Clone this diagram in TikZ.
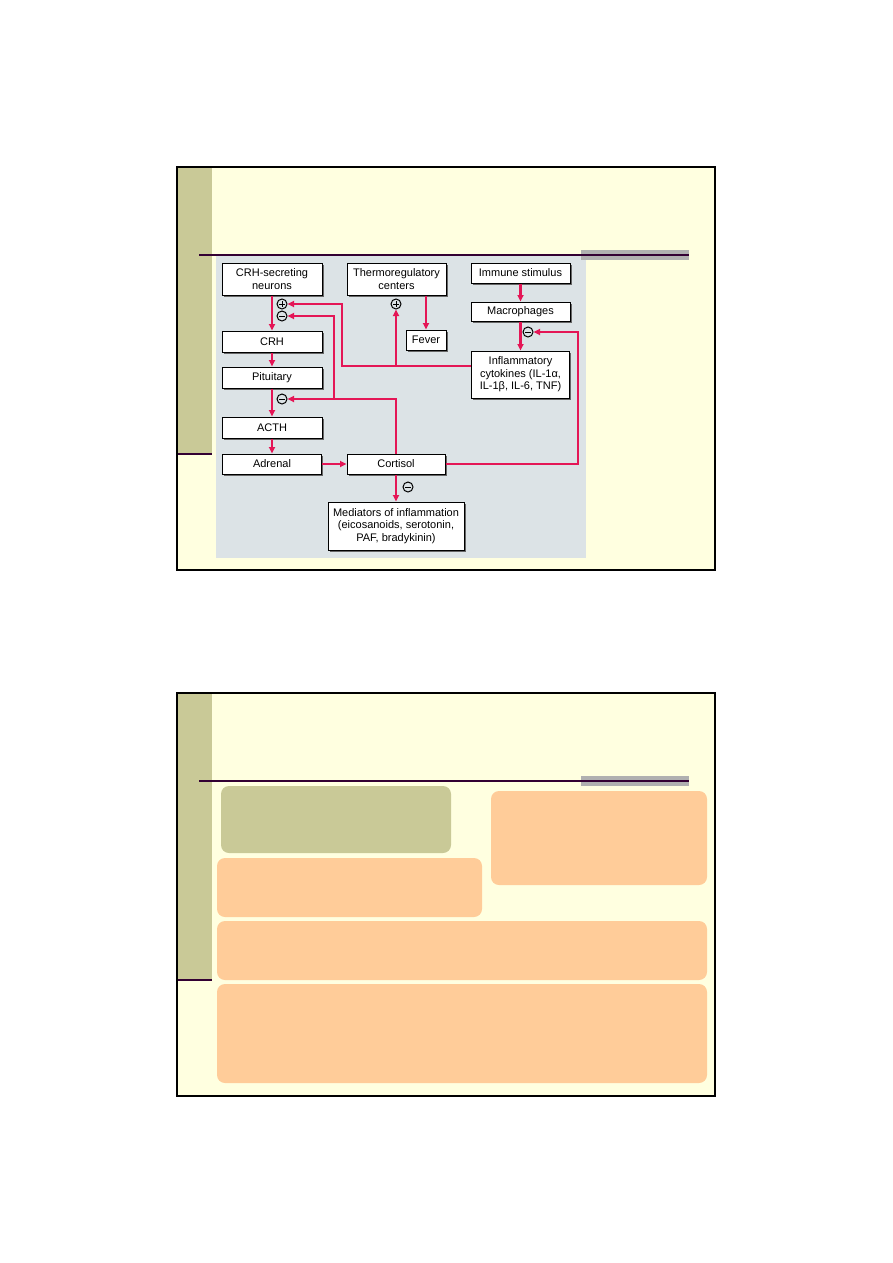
\documentclass[tikz,border=0pt]{standalone}
\usepackage{fontspec}
\setmainfont{Liberation Sans}
\usepackage{tikz}
\usetikzlibrary{arrows.meta, shadows}
\definecolor{slidebg}{RGB}{255,255,224}
\definecolor{sidebar}{RGB}{201,201,151}
\definecolor{rulepurple}{RGB}{51,0,51}
\definecolor{bargray}{RGB}{176,176,176}
\definecolor{figbg}{RGB}{220,227,230}
\definecolor{peach}{RGB}{255,204,153}
\definecolor{hormred}{RGB}{228,22,86}
\tikzset{
  >={Triangle[length=6.5pt,width=6pt]},
  line join=miter,
  box/.style={draw, fill=white, line width=1pt, align=center, inner sep=0pt,
    font=\fontsize{11}{12.5}\selectfont,
    drop shadow={shadow xshift=1.6pt, shadow yshift=-1.6pt, fill=black!60, opacity=1}},
  sign/.style={circle, draw, line width=1pt, minimum size=10pt, inner sep=0pt},
  plussign/.style={sign, path picture={
    \draw[line width=1pt] ([xshift=-2.8pt]path picture bounding box.center) -- ([xshift=2.8pt]path picture bounding box.center)
      ([yshift=-2.8pt]path picture bounding box.center) -- ([yshift=2.8pt]path picture bounding box.center);}},
  minussign/.style={sign, path picture={
    \draw[line width=1pt] ([xshift=-2.8pt]path picture bounding box.center) -- ([xshift=2.8pt]path picture bounding box.center);}},
  arrow/.style={->, draw=hormred, line width=2.2pt},
  slideframe/.style={draw=black, line width=2pt, fill=slidebg},
  panel/.style={fill=peach, rounded corners=8pt}
}

\begin{document}
\begin{tikzpicture}[x=1pt, y=-1pt]
\useasboundingbox[fill=white] (0,0) rectangle (893,1263);

% upper slide
\draw[slideframe] (177,167) rectangle (715,570);
\fill[sidebar] (178,168) rectangle (212,454);
\draw[rulepurple, line width=1.5pt] (178,454) -- (212,454);
\fill[figbg] (216,256) rectangle (586,558);
\fill[bargray] (581,250) rectangle (689,260);
\draw[rulepurple, line width=1.3pt] (199,255) -- (689,255);

% boxes
\node[box, minimum width=100pt, minimum height=32pt] (neurons) at (272,279) {CRH-secreting\\neurons};
\node[box, minimum width=100pt, minimum height=21pt] (crh) at (272,341.5) {CRH};
\node[box, minimum width=100pt, minimum height=21pt] (pit) at (272,377.5) {Pituitary};
\node[box, minimum width=100pt, minimum height=21pt] (acth) at (272,427.5) {ACTH};
\node[box, minimum width=99pt, minimum height=20pt] (adrenal) at (272,464) {Adrenal};
\node[box, minimum width=98pt, minimum height=20pt] (cortisol) at (396,464) {Cortisol};
\node[box, minimum width=136pt, minimum height=48pt] (mediators) at (396,526) {Mediators of inflammation\\(eicosanoids, serotonin,\\PAF, bradykinin)};
\node[box, minimum width=99pt, minimum height=32pt] (therm) at (396.5,279) {Thermoregulatory\\centers};
\node[box, minimum width=40pt, minimum height=20pt] (fever) at (426,340) {Fever};
\node[box, minimum width=99pt, minimum height=20pt] (immune) at (520.5,273) {Immune stimulus};
\node[box, minimum width=99pt, minimum height=19pt] (macro) at (520.5,311.5) {Macrophages};
\node[box, minimum width=98pt, minimum height=47pt] (cyto) at (520.5,374.5) {Inflammatory\\cytokines (IL-1α,\\IL-1β, IL-6, TNF)};

% plus and minus signs
\node[plussign] (pA) at (282,304) {};
\node[minussign] (mA) at (282,316) {};
\node[minussign] (mP) at (282,399) {};
\node[plussign] (pT) at (396,304) {};
\node[minussign] (mM) at (528,332) {};
\node[minussign] (mC) at (408,487) {};

% main chain
\draw[arrow] (neurons) -- (crh);
\draw[arrow] (crh) -- (pit);
\draw[arrow] (pit) -- (acth);
\draw[arrow] (acth) -- (adrenal);
\draw[arrow] (adrenal) -- (cortisol);
\draw[arrow] (cortisol) -- (mediators);
\draw[arrow] (fever.north |- therm.south) -- (fever);
\draw[arrow] (immune) -- (macro);
\draw[arrow] (macro) -- (cyto);

% feedback loops
\coordinate (cytoturn) at (342,366);
\coordinate (cortturn) at (334,399);
\coordinate (cortright) at (578,464);
\draw[arrow] (cyto.west |- cytoturn) -- (cytoturn) |- (pA);
\draw[arrow] (pT.south |- cytoturn) -- (pT);
\draw[arrow] (cortisol.north) |- (cortturn) |- (mA);
\draw[arrow] (cortturn) -- (mP);
\draw[arrow] (cortisol.east) -- (cortright) |- (mM);

% lower slide
\draw[slideframe] (177,693) rectangle (715,1096);
\fill[sidebar] (178,694) rectangle (212,980);
\draw[rulepurple, line width=1.5pt] (178,980) -- (212,980);
\fill[bargray] (581,776) rectangle (689,786);
\draw[rulepurple, line width=1.3pt] (199,781) -- (689,781);

% panels
\fill[sidebar, rounded corners=8pt] (221,786) rectangle (451,853);
\fill[panel] (491,791) rectangle (707,885);
\fill[panel] (217,858) rectangle (482,917);
\fill[panel] (217,921) rectangle (707,980);
\fill[panel] (217,984) rectangle (707,1083);

\end{tikzpicture}
\end{document}
